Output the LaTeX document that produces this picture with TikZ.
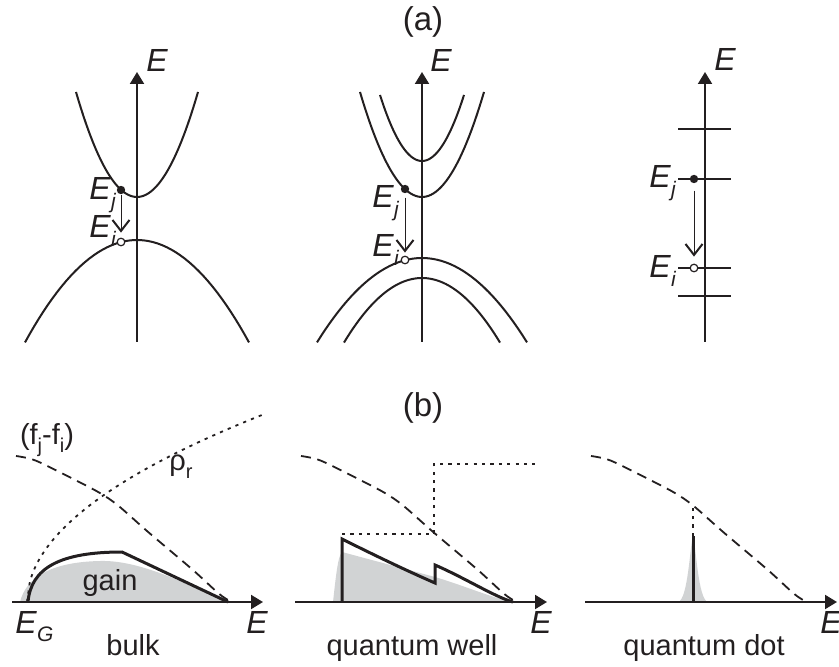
\documentclass[tikz,border=0pt]{standalone}
\usepackage{fontspec}
\setmainfont{Liberation Sans}
\usetikzlibrary{arrows.meta,positioning,calc}
\definecolor{bandblack}{RGB}{35,31,32}
\definecolor{gaingray}{RGB}{209,211,212}
\tikzset{
  band/.style={line width=1pt, bandblack},
  axisarr/.style={-{Triangle[length=6pt,width=7pt]}, line width=1pt, bandblack},
  level/.style={line width=0.8pt, bandblack},
  trans/.style={-{Straight Barb[length=5.5pt,width=8.5pt,line width=1pt]}, line width=0.5pt, bandblack},
  fullstate/.style={circle, fill=bandblack, inner sep=0pt, minimum size=4.2pt},
  emptystate/.style={circle, draw=bandblack, fill=white, line width=0.6pt, inner sep=0pt, minimum size=3.8pt},
  fermiline/.style={line width=0.9pt, dash pattern=on 5pt off 3.3pt, bandblack},
  dosline/.style={line width=0.9pt, dash pattern=on 1.6pt off 2.6pt, bandblack},
  gainline/.style={line width=1.5pt, bandblack, line join=miter},
  gainfill/.style={fill=gaingray, draw=none},
  lbl/.style={font=\fontsize{14.5}{17}\selectfont, inner sep=0pt, text=bandblack},
  elbl/.style={font=\fontsize{16}{19}\selectfont, inner sep=0pt, text=bandblack},
  title/.style={font=\fontsize{16.5}{19}\selectfont, inner sep=0pt, text=bandblack}
}
\newcommand{\Elev}[1]{\textit{E}\raisebox{-0.5ex}{\fontsize{10.5}{12}\selectfont\textit{#1}}}
\newcommand{\lowsub}[1]{\raisebox{-0.5ex}{\fontsize{10}{12}\selectfont #1}}

\begin{document}
\begin{tikzpicture}[x=0.5pt,y=-0.5pt]
  \useasboundingbox (0,0) rectangle (839,667);
  % (a) band pictures
  \node[title] (lbla) at (423,22) {(a)};
  % bulk
  \draw[axisarr] (137,342) -- (137,72);
  \node[elbl, anchor=base west] (ebulk) at (146,72) {\textit{E}};
  \draw[band] plot[domain=-61:61, samples=50] ({\x+137},{197-105*(\x/61)^2});
  \draw[band] plot[domain=-112:112, samples=50] ({\x+137},{240+90*(\x/105)^2});
  \node[fullstate] (ej1) at (121,190) {};
  \node[emptystate] (ei1) at (121,242) {};
  \draw[trans, shorten >=2.5pt] (ej1) -- (ei1);
  \node[elbl, anchor=base west] (lej1) at (89,200) {\Elev{j}};
  \node[elbl, anchor=base west] (lei1) at (89,238) {\Elev{i}};
  % quantum well
  \draw[axisarr] (422,342) -- (422,72);
  \node[elbl, anchor=base west] (ewell) at (430,72) {\textit{E}};
  \draw[band] plot[domain=-62:62, samples=50] ({\x+422},{197-105*(\x/62)^2});
  \draw[band] plot[domain=-42:42, samples=50] ({\x+422},{161-66*(\x/42)^2});
  \draw[band] plot[domain=-105:105, samples=50] ({\x+422},{258+72*(\x/97)^2});
  \draw[band] plot[domain=-78:78, samples=50] ({\x+422},{278+52*(\x/70)^2});
  \node[fullstate] (ej2) at (405,189) {};
  \node[emptystate] (ei2) at (405,260) {};
  \draw[trans, shorten <=2pt, shorten >=1.5pt] (ej2) -- (ei2);
  \node[elbl, anchor=base west] (lej2) at (372,208) {\Elev{j}};
  \node[elbl, anchor=base west] (lei2) at (372,257) {\Elev{i}};
  % quantum dot
  \draw[axisarr] (705,342) -- (705,72);
  \node[elbl, anchor=base west] (edot) at (714,71) {\textit{E}};
  \foreach \ylev in {129,179,268,296}
    \draw[level] (678,\ylev) -- (731,\ylev);
  \node[fullstate] (ej3) at (694,179) {};
  \node[emptystate] (ei3) at (694,268) {};
  \draw[trans, shorten <=3.5pt, shorten >=3.5pt] (ej3) -- (ei3);
  \node[elbl, anchor=base west] (lej3) at (649,188) {\Elev{j}};
  \node[elbl, anchor=base west] (lei3) at (649,278) {\Elev{i}};

  % (b) gain spectra
  \node[title] (lblb) at (423,408) {(b)};
  \fill[gainfill] (20,602) .. controls (26,578) and (50,562) .. (100,561)
    .. controls (135,560) and (175,578) .. (228,602) -- cycle;
  \fill[gainfill] (333,602) .. controls (336,575) and (338,556) .. (342,552) -- (435,577)
    .. controls (465,586) and (490,597) .. (512,602) -- cycle;
  \fill[gainfill] (678,602) .. controls (688,600) and (690,545) .. (693,536)
    .. controls (696,545) and (698,600) .. (708,602) -- cycle;
  \draw[axisarr] (12,602) -- (263,602);
  \draw[axisarr] (295,602) -- (547,602);
  \draw[axisarr] (585,602) -- (837,602);
  % Fermi factor
  \foreach \xs in {16,301,591}
    \draw[fermiline, shift={(\xs,456)}, xscale=213, yscale=146] plot[smooth] coordinates
      {(0,0) (0.09,0.03) (0.245,0.14) (0.39,0.25) (0.48,0.34) (0.62,0.52) (0.83,0.78) (0.95,0.94) (1,0.99)};
  % density of states
  \draw[dosline] plot[domain=27:262, samples=80] (\x,{602-12.2*sqrt(\x-27)});
  \draw[dosline] (342,534) -- (434,534) -- (434,464) -- (535,464);
  \draw[dosline] (693,536) -- (693,507);
  % gain
  \draw[gainline] (28,602) .. controls (31,568) and (60,552) .. (122,552) -- (228,602);
  \draw[gainline] (342,602) -- (342,539) .. controls (370,553) and (405,570) .. (435,583)
    -- (435,565) .. controls (465,578) and (495,597) .. (513,602);
  \draw[gainline] (693,602) -- (693,536);
  % labels
  \node[lbl] (lfermi) at (47,440) {(f\lowsub{j}-f\lowsub{i})};
  \node[lbl] (lrho) at (181,467) {ρ\lowsub{r}};
  \node[lbl, anchor=base] (lgain) at (110,590) {gain};
  \node[elbl, anchor=base west] (lEG) at (15,633) {\Elev{G}};
  \node[elbl, anchor=base west] (eb1) at (246,633) {\textit{E}};
  \node[elbl, anchor=base west] (eb2) at (530,633) {\textit{E}};
  \node[elbl, anchor=base west] (eb3) at (820,633) {\textit{E}};
  \node[lbl, anchor=base] (lbulk) at (133,655) {bulk};
  \node[lbl, anchor=base] (lwell) at (412,655) {quantum well};
  \node[lbl, anchor=base] (ldot) at (704,655) {quantum dot};
\end{tikzpicture}
\end{document}
